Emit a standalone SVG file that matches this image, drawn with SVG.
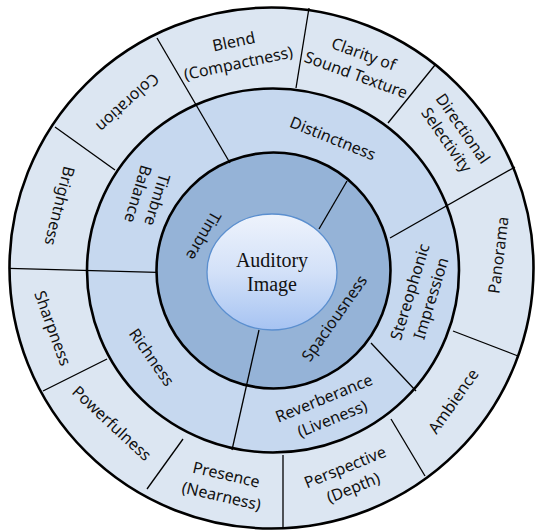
<svg xmlns="http://www.w3.org/2000/svg" width="536" height="532" viewBox="0 0 536 532">
  <defs>
    <linearGradient id="coreFill" x1="0" y1="0" x2="0" y2="1">
      <stop offset="0" stop-color="#eef3fc"/>
      <stop offset="0.5" stop-color="#d3e1f8"/>
      <stop offset="1" stop-color="#a6c3f2"/>
    </linearGradient>
    <style>
      .ring { stroke: #000; stroke-width: 2.6; }
      .outer { fill: #dce6f2; }
      .middle { fill: #c6d8ef; }
      .inner { fill: #95b3d7; }
      .core { fill: url(#coreFill); stroke: #5b8fcf; stroke-width: 1.3; }
      .div line { stroke: #000; stroke-width: 1.3; }
      text { font-family: "Noto Sans", "Open Sans", "DejaVu Sans", sans-serif; font-size: 16px; fill: #111; text-anchor: middle; dominant-baseline: central; }
      .title { font-family: "Liberation Serif", "DejaVu Serif", serif; font-size: 20px; dominant-baseline: alphabetic; }
    </style>
  </defs>

  <!-- concentric bands -->
  <ellipse class="ring outer" cx="271.5" cy="268" rx="262" ry="260.5"/>
  <ellipse class="ring middle" cx="273" cy="270.5" rx="186" ry="182"/>
  <ellipse class="ring inner" cx="273.5" cy="270.5" rx="117" ry="118"/>

  <!-- segment dividers -->
  <g id="connectors" class="div">
    <line x1="319" y1="229" x2="347" y2="181"/>
    <line x1="259" y1="330" x2="232" y2="450"/>
    <line x1="230" y1="163" x2="157" y2="38"/>
    <line x1="9" y1="268.3" x2="157" y2="272.3"/>
    <line x1="390" y1="238" x2="515" y2="167"/>
    <line x1="371" y1="343" x2="416" y2="391"/>
    <line x1="115" y1="170" x2="55" y2="127"/>
    <line x1="107" y1="359" x2="43" y2="391"/>
    <line x1="183" y1="439" x2="147" y2="489"/>
    <line x1="283" y1="455" x2="283" y2="529"/>
    <line x1="391" y1="419" x2="425" y2="476"/>
    <line x1="453" y1="331" x2="518" y2="356"/>
    <line x1="388" y1="123" x2="435" y2="65"/>
    <line x1="296" y1="88" x2="309" y2="8"/>
  </g>

  <!-- centre -->
  <g id="auditory-image">
    <ellipse class="core" cx="272" cy="272" rx="65" ry="58"/>
    <text class="title" x="272" y="267">Auditory</text>
    <text class="title" x="272" y="291">Image</text>
  </g>

  <!-- first band -->
  <g id="timbre"><text transform="translate(204,236) rotate(120)">Timbre</text></g>
  <g id="spaciousness"><text transform="translate(334,318) rotate(-55)">Spaciousness</text></g>

  <!-- second band -->
  <g id="timbre-balance"><g transform="translate(148,197) rotate(107)">
    <text y="-10">Timbre</text><text y="10">Balance</text>
  </g></g>
  <g id="distinctness"><text transform="translate(333,138) rotate(22)">Distinctness</text></g>
  <g id="stereophonic-impression"><g transform="translate(420,295) rotate(-73)">
    <text y="-11">Stereophonic</text><text y="11">Impression</text>
  </g></g>
  <g id="reverberance"><g transform="translate(328,408) rotate(-22)">
    <text y="-11">Reverberance</text><text y="11">(Liveness)</text>
  </g></g>
  <g id="richness"><text transform="translate(152,357) rotate(55)">Richness</text></g>

  <!-- outer band -->
  <g id="blend"><g transform="translate(236,52) rotate(-12)">
    <text y="-11">Blend</text><text y="11">(Compactness)</text>
  </g></g>
  <g id="clarity"><g transform="translate(360,64) rotate(20)">
    <text y="-11">Clarity of</text><text y="11">Sound Texture</text>
  </g></g>
  <g id="directional-selectivity"><g transform="translate(455,134) rotate(55)">
    <text y="-10">Directional</text><text y="10">Selectivity</text>
  </g></g>
  <g id="panorama"><text transform="translate(498,255) rotate(-83)">Panorama</text></g>
  <g id="ambience"><text transform="translate(453,401) rotate(-55)">Ambience</text></g>
  <g id="perspective"><g transform="translate(349,477) rotate(-22)">
    <text y="-11">Perspective</text><text y="11">(Depth)</text>
  </g></g>
  <g id="presence"><g transform="translate(224,485) rotate(13)">
    <text y="-11">Presence</text><text y="11">(Nearness)</text>
  </g></g>
  <g id="powerfulness"><text transform="translate(112,423) rotate(43)">Powerfulness</text></g>
  <g id="sharpness"><text transform="translate(53,328) rotate(70)">Sharpness</text></g>
  <g id="brightness"><text transform="translate(60,206) rotate(104)">Brightness</text></g>
  <g id="coloration"><text transform="translate(128,103) rotate(138)">Coloration</text></g>
</svg>
